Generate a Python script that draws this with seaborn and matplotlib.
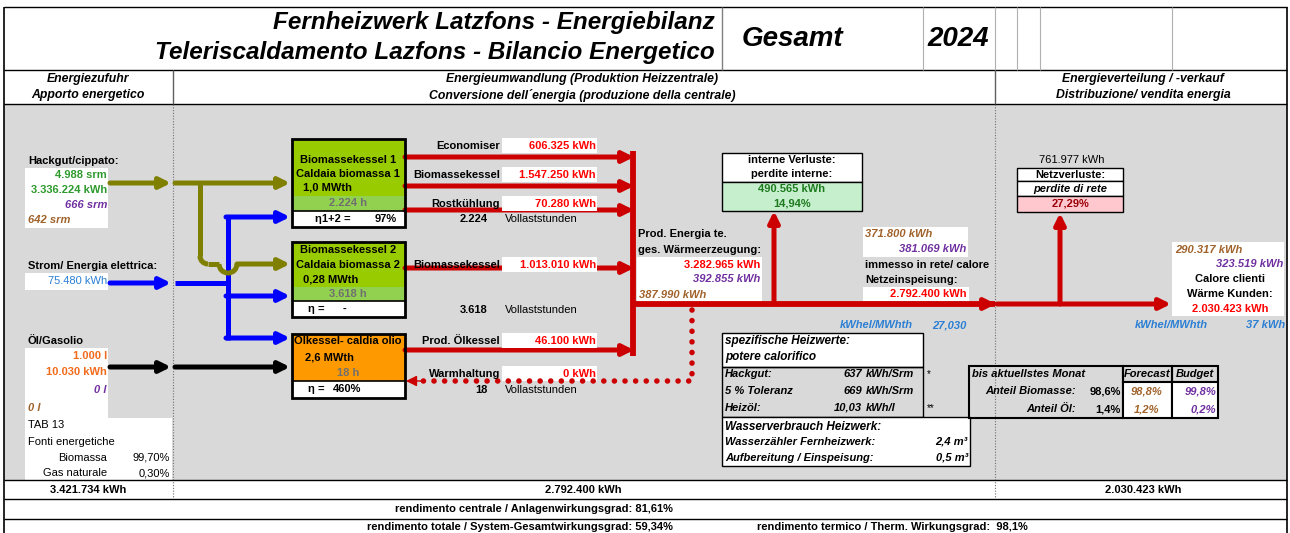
import numpy as np
import matplotlib.pyplot as plt
import seaborn as sns
from matplotlib.patches import Rectangle, Arc

sns.set_theme(style="white")
plt.rcParams['font.family'] = ['Liberation Sans', 'DejaVu Sans']

# ---- data ----
title_lines = ["Fernheizwerk Latzfons - Energiebilanz", "Teleriscaldamento Lazfons - Bilancio Energetico"]
scope = "Gesamt"
year = "2024"

hackgut = ["4.988 srm", "3.336.224 kWh", "666 srm", "642 srm"]
strom = "75.480 kWh"
oel = ["1.000 l", "10.030 kWh", "0 l", "0 l"]
sources = ["Biomassa", "Gas naturale"]
source_share = ["99,70%", "0,30%"]

boiler_names = [["Biomassekessel 1", "Caldaia biomassa 1"], ["Biomassekessel 2", "Caldaia biomassa 2"], ["Ölkessel- caldia olio"]]
boiler_power = ["1,0 MWth", "0,28 MWth", "2,6 MWth"]
boiler_hours = ["2.224 h", "3.618 h", "18 h"]
boiler_eta = [("η1+2 =", "97%"), ("η =", "-"), ("η =", "460%")]

flow_labels = ["Economiser", "Biomassekessel", "Rostkühlung", "Biomassekessel", "Prod. Ölkessel", "Warmhaltung"]
flow_values = ["606.325 kWh", "1.547.250 kWh", "70.280 kWh", "1.013.010 kWh", "46.100 kWh", "0 kWh"]
full_load = ["2.224", "3.618", "18"]

prod_total = ["3.282.965 kWh", "392.855 kWh", "387.990 kWh"]
internal_loss = ["490.565 kWh", "14,94%"]
grid_in = ["371.800 kWh", "381.069 kWh", "2.792.400 kWh"]
grid_loss = ["761.977 kWh", "27,29%"]
customers = ["290.317 kWh", "323.519 kWh", "2.030.423 kWh"]
kwhel = ["27,030", "37 kWh"]

heat_rows = [("Hackgut:", "637", "kWh/Srm", "*"), ("5 % Toleranz", "669", "kWh/Srm", ""), ("Heizöl:", "10,03", "kWh/l", "**")]
water_rows = [("Wasserzähler Fernheizwerk:", "2,4 m³"), ("Aufbereitung / Einspeisung:", "0,5 m³")]
share_rows = [("Anteil Biomasse:", "98,6%", "98,8%", "99,8%"), ("Anteil Öl:", "1,4%", "1,2%", "0,2%")]

totals = ["3.421.734 kWh", "2.792.400 kWh", "2.030.423 kWh"]
eff_plant = "81,61%"
eff_system = "59,34%"
eff_thermal = "98,1%"

RED, OLIVE, BLUE = "#cc0000", "#808000", "#0000ff"
TRED, PURPLE, BROWN = "#ff0000", "#7030a0", "#a0622a"
GREEN_T, BLUE_T, ORANGE_T = "#2e9a2e", "#2a7fd4", "#f26b1d"
GREY_BG = "#d9d9d9"

fig = plt.figure(figsize=(12.9, 5.33), dpi=100)
ax = fig.add_axes([0, 0, 1, 1])
ax.set_xlim(0, 1290)
ax.set_ylim(533, 0)
ax.axis("off")


def t(x, y, s, ha="left", c="black", b=True, i=False, size=8, z=6):
    ax.text(x, y, s, ha=ha, va="center", color=c, fontsize=size, zorder=z,
            fontweight="bold" if b else "normal", fontstyle="italic" if i else "normal")


def box(x0, y0, x1, y1, fc="white", ec="none", lw=1.0, z=1):
    ax.add_patch(Rectangle((x0, y0), x1 - x0, y1 - y0, facecolor=fc, edgecolor=ec, lw=lw, zorder=z))


def arrow(x0, y0, x1, y1, c, lw=3.6, z=3):
    ax.annotate("", xy=(x1, y1), xytext=(x0, y0), zorder=z,
                arrowprops=dict(arrowstyle="-|>", color=c, lw=lw, mutation_scale=16, shrinkA=0, shrinkB=0))


def line(xs, ys, c, lw=3.6, z=3, **kw):
    ax.plot(xs, ys, color=c, lw=lw, zorder=z, solid_capstyle="butt", **kw)


# ---- frame ----
box(4, 104, 1287, 480, fc=GREY_BG)
for y in [7, 70, 104, 480, 499, 519]:
    line([4, 1287], [y, y], "black", lw=1)
line([4, 4], [7, 533], "black", lw=1.2)
line([1287, 1287], [7, 533], "black", lw=1.2)
line([722, 722], [7, 70], "#808080", lw=1)
for x in [923, 995, 1017, 1040, 1172]:
    line([x, x], [7, 70], "#b0b0b0", lw=0.8)
line([173, 173], [70, 104], "#606060", lw=1)
line([995, 995], [70, 104], "#606060", lw=1)
for x in [173, 995]:
    ax.plot([x, x], [104, 499], color="#707070", lw=0.8, ls=(0, (1, 1.5)), zorder=2)

# ---- title ----
t(715, 22, title_lines[0], ha="right", i=True, size=17.5)
t(715, 52, title_lines[1], ha="right", i=True, size=17.5)
t(792, 39, scope, ha="center", i=True, size=20)
t(958, 39, year, ha="center", i=True, size=20)

t(88, 79, "Energiezufuhr", ha="center", i=True, size=8.8)
t(88, 95, "Apporto energetico", ha="center", i=True, size=8.8)
t(582, 79, "Energieumwandlung (Produktion Heizzentrale)", ha="center", i=True, size=8.8)
t(582, 95, "Conversione dell´energia (produzione della centrale)", ha="center", i=True, size=8.8)
t(1143, 79, "Energieverteilung / -verkauf", ha="center", i=True, size=8.8)
t(1143, 95, "Distribuzione/ vendita energia", ha="center", i=True, size=8.8)

# ---- inputs ----
t(28, 161, "Hackgut/cippato:")
box(25, 168, 108, 228)
t(107, 175, hackgut[0], ha="right", c=GREEN_T)
t(107, 190, hackgut[1], ha="right", c=GREEN_T)
t(107, 205, hackgut[2], ha="right", c=PURPLE, i=True)
t(28, 220, hackgut[3], c=BROWN, i=True)

t(28, 266, "Strom/ Energia elettrica:")
box(25, 273, 108, 290)
t(107, 281, strom, ha="right", c=BLUE_T, b=False)

t(28, 341, "Öl/Gasolio")
box(25, 348, 108, 418)
box(25, 418, 172, 480)
t(107, 356, oel[0], ha="right", c=ORANGE_T)
t(107, 372, oel[1], ha="right", c=ORANGE_T)
t(107, 390, oel[2], ha="right", c=PURPLE, i=True)
t(28, 408, oel[3], c=BROWN, i=True)
t(28, 425, "TAB 13", b=False)
t(28, 442, "Fonti energetiche", b=False)
for k, (s, v) in enumerate(zip(sources, source_share)):
    t(107, 458 + 15 * k, s, ha="right", b=False)
    t(170, 458 + 15 * k, v, ha="right", b=False)

# olive (wood chips)
arrow(110, 183, 171, 183, OLIVE)
arrow(175, 183, 290, 183, OLIVE)
line([200, 200], [183, 256], OLIVE)
ax.add_patch(Arc((208, 256), 16, 16, theta1=90, theta2=180, color=OLIVE, lw=3.6, zorder=3))
line([208, 219], [264, 264], OLIVE)
ax.add_patch(Arc((228, 264), 18, 18, theta1=0, theta2=180, color=OLIVE, lw=3.6, zorder=4))
arrow(237, 264, 290, 264, OLIVE)
# blue (electricity)
arrow(110, 283, 171, 283, BLUE)
line([175, 228], [283, 283], BLUE)
line([228, 228], [215, 340], BLUE)
for y in [217, 296, 338]:
    arrow(226, y, 290, y, BLUE)
# black (oil)
arrow(110, 367, 171, 367, "black")
arrow(175, 367, 290, 367, "black")

# ---- boilers ----
boiler_geo = [(139, 196, 211, 227), (242, 287, 301, 317), (334, 366, 381, 398)]
boiler_fc = ["#99cc00", "#99cc00", "#ff9900"]
hour_fc = ["#92d050", "#92d050", "#ff9900"]
eta_x = [(315, 375), (308, 343), (308, 333)]
for k, (y0, y1, y2, y3) in enumerate(boiler_geo):
    box(292, y0, 405, y1, fc=boiler_fc[k], z=2)
    box(292, y1, 405, y2, fc=hour_fc[k], z=2)
    box(292, y2, 405, y3, fc="white", z=2)
    box(292, y0, 405, y3, fc="none", ec="black", lw=2, z=5)
    line([292, 405], [y2, y2], "black", lw=1.2, z=5)
    t(348, (y1 + y2) / 2, boiler_hours[k], ha="center", c="#707070")
    t(eta_x[k][0], (y2 + y3) / 2, boiler_eta[k][0])
    t(eta_x[k][1], (y2 + y3) / 2, boiler_eta[k][1])
t(348, 160, boiler_names[0][0], ha="center")
t(348, 174, boiler_names[0][1], ha="center")
t(303, 188, boiler_power[0])
t(348, 250, boiler_names[1][0], ha="center")
t(348, 265, boiler_names[1][1], ha="center")
t(303, 280, boiler_power[1])
t(348, 341, boiler_names[2][0], ha="center")
t(305, 357, boiler_power[2])

# ---- production flows ----
flow_y = [157, 186, 210, 268, 350]
label_y = [146, 175, 204, 265, 341, 374]
for k in range(6):
    t(500, label_y[k], flow_labels[k], ha="right")
    box(502, label_y[k] - 8, 597, label_y[k] + 7, z=4)
    t(596, label_y[k], flow_values[k], ha="right", c=TRED)
for y in flow_y:
    arrow(405, y, 634, y, RED)
line([633, 633], [151, 356], RED, lw=4.2)
for k, y in enumerate([219, 310, 390]):
    t(488, y, full_load[k], ha="right")
    t(505, y, "Vollaststunden", b=False)

# dotted keep-warm loop
ax.plot([692, 692, 418], [310, 381, 381], color=RED, lw=4, ls=(0, (0.01, 1.9)),
        dash_capstyle="round", zorder=5)
arrow(425, 381, 406, 381, RED, lw=1)

# production total
t(638, 234, "Prod. Energia te.")
t(638, 250, "ges. Wärmeerzeugung:")
box(637, 257, 762, 302)
t(760, 265, prod_total[0], ha="right", c=TRED)
t(760, 279, prod_total[1], ha="right", c=PURPLE, i=True)
t(639, 295, prod_total[2], c=BROWN, i=True)

line([633, 995], [304, 304], RED, lw=4.2)
arrow(980, 304, 996, 304, RED)
arrow(997, 304, 1171, 304, RED)
arrow(774, 304, 774, 211, RED)
arrow(1060, 304, 1060, 213, RED)

# internal losses
box(722, 153, 862, 182, ec="black", z=4)
box(722, 182, 862, 211, fc="#c6efce", ec="black", z=4)
t(792, 160, "interne Verluste:", ha="center")
t(792, 174, "perdite interne:", ha="center")
t(792, 189, internal_loss[0], ha="center", c="#1e7a1e")
t(792, 204, internal_loss[1], ha="center", c="#1e7a1e")

# grid feed-in
box(863, 227, 968, 257)
t(865, 234, grid_in[0], c=BROWN, i=True)
t(966, 249, grid_in[1], ha="right", c=PURPLE, i=True)
t(865, 265, "immesso in rete/ calore")
t(865, 280, "Netzeinspeisung:")
box(863, 287, 969, 301)
t(967, 294, grid_in[2], ha="right", c=TRED)
t(913, 325, "kWhel/MWhth", ha="right", c=BLUE_T, i=True)
t(967, 325, kwhel[0], ha="right", c=BLUE_T, i=True)

# grid losses
t(1072, 160, grid_loss[0], ha="center", b=False)
box(1017, 168, 1123, 181, ec="black", z=4)
box(1017, 181, 1123, 196, ec="black", z=4)
box(1017, 196, 1123, 212, fc="#ffc7ce", ec="black", z=4)
t(1070, 175, "Netzverluste:", ha="center")
t(1070, 189, "perdite di rete", ha="center", i=True)
t(1070, 204, grid_loss[1], ha="center", c="#9c0006")

# customers
box(1172, 242, 1284, 316)
t(1175, 250, customers[0], c=BROWN, i=True)
t(1283, 264, customers[1], ha="right", c=PURPLE, i=True)
t(1230, 279, "Calore clienti", ha="center")
t(1230, 294, "Wärme Kunden:", ha="center")
t(1230, 309, customers[2], ha="center", c=TRED)
t(1208, 325, "kWhel/MWhth", ha="right", c=BLUE_T, i=True)
t(1285, 325, kwhel[1], ha="right", c=BLUE_T, i=True)

# specific heating values
box(722, 333, 923, 367, ec="black", z=4)
box(722, 367, 923, 417, fc="none", ec="black", z=4)
t(725, 341, "spezifische Heizwerte:", i=True, size=8.5)
t(725, 357, "potere calorifico", i=True, size=8.5)
for k, (name, val, unit, star) in enumerate(heat_rows):
    y = 374 + 17 * k
    t(725, y, name, i=True)
    t(862, y, val, ha="right", i=True)
    t(866, y, unit, i=True)
    t(927, y, star, b=False, size=7)
box(722, 417, 970, 466, ec="black", z=4)
t(725, 427, "Wasserverbrauch Heizwerk:", i=True, size=8.5)
for k, (name, val) in enumerate(water_rows):
    t(725, 442 + 16 * k, name, i=True)
    t(968, 442 + 16 * k, val, ha="right", i=True)

# biomass share table
box(969, 366, 1123, 418, fc="none", ec="black", lw=1.5, z=4)
box(1123, 366, 1172, 382, fc="none", ec="black", lw=1.5, z=4)
box(1172, 366, 1218, 382, fc="none", ec="black", lw=1.5, z=4)
box(1123, 382, 1172, 418, ec="black", lw=1.5, z=4)
box(1172, 382, 1218, 418, ec="black", lw=1.5, z=4)
t(972, 374, "bis aktuellstes Monat", i=True)
t(1147, 374, "Forecast", ha="center", i=True)
t(1195, 374, "Budget", ha="center", i=True)
for k, (name, act, fc_, bud) in enumerate(share_rows):
    y = 391 + 18 * k
    t(1076, y, name, ha="right", i=True)
    t(1121, y, act, ha="right")
    t(1147, y, fc_, ha="center", c=BROWN, i=True)
    t(1216, y, bud, ha="right", c=PURPLE, i=True)

# ---- totals and efficiencies ----
t(88, 490, totals[0], ha="center")
t(583, 490, totals[1], ha="center")
t(1143, 490, totals[2], ha="center")
t(673, 509, "rendimento centrale / Anlagenwirkungsgrad: " + eff_plant, ha="right", size=8)
t(673, 527, "rendimento totale / System-Gesamtwirkungsgrad: " + eff_system, ha="right", size=8)
t(757, 527, "rendimento termico / Therm. Wirkungsgrad:  " + eff_thermal, size=8)

fig.savefig("out.png", dpi=100)
